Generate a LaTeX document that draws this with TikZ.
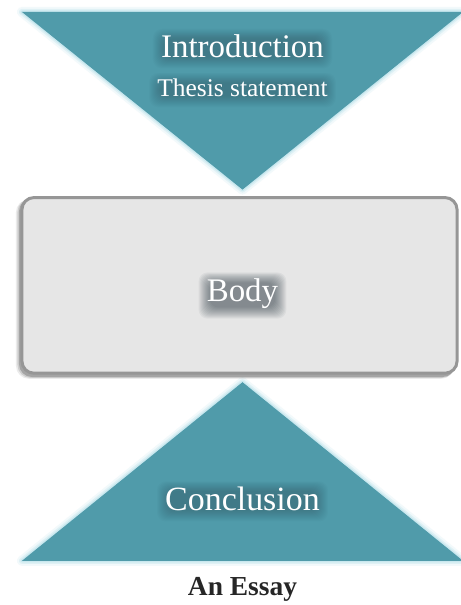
\documentclass[tikz,border=0pt]{standalone}
\usepackage{fontspec}
\setmainfont{Liberation Serif}
\definecolor{teal1}{RGB}{80,155,170}
\definecolor{glowc}{RGB}{170,220,230}
\definecolor{boxfill}{RGB}{230,230,230}
\definecolor{boxline}{RGB}{150,150,150}
\definecolor{txtshadow}{RGB}{30,45,55}
\pgfdeclarelayer{bg}
\pgfdeclarelayer{glow}
\pgfsetlayers{bg,glow,main}
\newcommand{\halo}[2]{% node name, opacity per step
  \begin{pgfonlayer}{glow}
  \foreach \k in {0,...,11}{
    \fill[txtshadow, opacity=#2, rounded corners=9pt]
      ([shift={(-1.0*\k pt+3pt,-1.0*\k pt+1pt)}]#1.south west) rectangle ([shift={(1.0*\k pt-3pt,0.9*\k pt-4pt)}]#1.north east);
  }
  \end{pgfonlayer}
}
\tikzset{
  tri/.style={fill=teal1, draw=none},
  triglow/.style={draw=glowc, line join=round},
  lbl/.style={anchor=base, text=white, inner sep=0pt}
}
\begin{document}
\begin{tikzpicture}[x=1pt,y=1pt]
\begin{pgfonlayer}{bg}
\useasboundingbox[fill=white] (0,0) rectangle (461,605);
% top triangle glow
\foreach \w/\o in {10/0.15,6/0.25,3/0.4}{
  \draw[triglow, line width=\w pt, opacity=\o] (22,593) -- (464,593) -- (243,415) -- cycle;
}
\fill[tri] (22,593) -- (464,593) -- (243,415) -- cycle;
% bottom triangle glow
\foreach \w/\o in {10/0.15,6/0.25,3/0.4}{
  \draw[triglow, line width=\w pt, opacity=\o] (22,43) -- (464,43) -- (243,222) -- cycle;
}
\fill[tri] (22,43) -- (464,43) -- (243,222) -- cycle;
% body box shadow
\foreach \s/\o in {6/0.08,4.5/0.12,3/0.2}{
  \fill[black, opacity=\o, rounded corners=13pt] (22-\s,229-\s*0.6) rectangle (458-\s*0.5,407-\s*0.3);
}
\draw[boxline, line width=3pt, fill=boxfill, rounded corners=12pt] (22,231) rectangle (458,407);
\end{pgfonlayer}
\node[lbl, font=\fontsize{33}{36}\selectfont] (intro) at (243,547) {Introduction};
\node[lbl, font=\fontsize{25.5}{28}\selectfont] (thesis) at (243,508) {Thesis statement};
\node[lbl, font=\fontsize{33}{36}\selectfont] (body) at (243,303) {Body};
\node[lbl, font=\fontsize{34}{37}\selectfont] (concl) at (243,93) {Conclusion};
\halo{intro}{0.022}
\halo{thesis}{0.022}
\halo{body}{0.05}
\halo{concl}{0.022}
\node[anchor=base, text=black!85, font=\bfseries\fontsize{27.5}{30}\selectfont] (essay) at (243,8) {An Essay};
\end{tikzpicture}
\end{document}
